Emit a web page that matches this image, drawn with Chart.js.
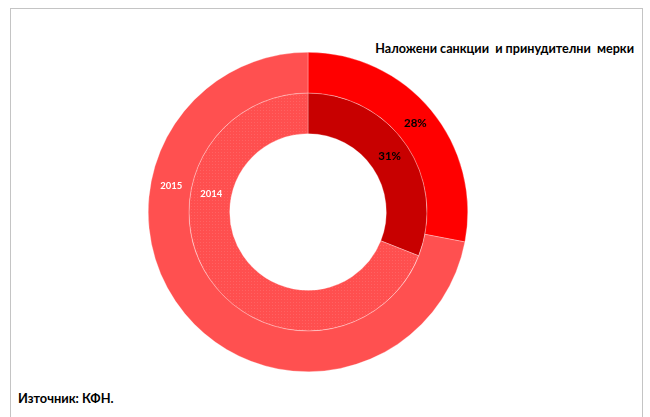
<!DOCTYPE html>
<html lang="bg">
<head>
<meta charset="utf-8">
<script src="https://cdn.jsdelivr.net/npm/chart.js@4.4.0/dist/chart.umd.min.js"></script>
<style>
  body { margin: 0; background: #fff; width: 650px; height: 417px; overflow: hidden; position: relative; font-family: Lato, "Open Sans", sans-serif; }
  .frame { position: absolute; left: 10px; top: 8px; width: 631px; height: 430px; border: 1px solid #c4c4c4; }
  .title { position: absolute; right: 16px; top: 41px; font-weight: bold; font-size: 12.6px; color: #000; white-space: pre; }
  .source { position: absolute; left: 18px; top: 390px; font-weight: bold; font-size: 12.8px; color: #000; }
  .pie { position: absolute; left: 148px; top: 52px; width: 320px; height: 320px; }
</style>
</head>
<body>
<div class="frame"></div>
<div class="title">Наложени санкции  и принудителни  мерки</div>
<div class="pie"><canvas id="graficoSancoes" width="320" height="320"></canvas></div>
<div class="source">Източник: КФН.</div>
<script>
// дялове по години (външен пръстен 2015, вътрешен 2014)
const godini = ['2015', '2014'];
const kategorii = ['Принудителни мерки', 'Наложени санкции'];
const dannu2015 = [28, 72];
const dannu2014 = [31, 69];
const etiketi2015 = ['28%', ''];
const etiketi2014 = ['31%', ''];

// ситна точкова шарка за втория сегмент на 2014
function shablon() {
  const c = document.createElement('canvas');
  c.width = 3; c.height = 3;
  const ctx = c.getContext('2d');
  ctx.fillStyle = '#ff4f4f';
  ctx.fillRect(0, 0, 3, 3);
  ctx.fillStyle = '#ff6262';
  ctx.fillRect(1, 1, 1, 1);
  return ctx.createPattern(c, 'repeat');
}

// ъгъл (от горе, по часовника) за имената на пръстените
const uglyNaIme = 281;

const nadpisi = {
  id: 'nadpisi',
  afterDatasetsDraw(chart) {
    const ctx = chart.ctx;
    ctx.save();
    ctx.textAlign = 'center';
    ctx.textBaseline = 'middle';
    chart.data.datasets.forEach((ds, i) => {
      const meta = chart.getDatasetMeta(i);
      meta.data.forEach((arc, j) => {
        const txt = ds.etiketi[j];
        if (!txt) return;
        const p = arc.getCenterPoint();
        ctx.font = 'bold 11.5px Lato, sans-serif';
        ctx.fillStyle = '#000';
        ctx.fillText(txt, p.x, p.y);
      });
      const a = meta.data[0];
      const r = (a.innerRadius + a.outerRadius) / 2;
      const ug = uglyNaIme * Math.PI / 180 - Math.PI / 2;
      ctx.font = 'bold 9.5px Lato, sans-serif';
      ctx.fillStyle = '#fff';
      ctx.fillText(ds.label, a.x + r * Math.cos(ug), a.y + r * Math.sin(ug) + 1);
    });
    ctx.restore();
  }
};

const grafico = new Chart(document.getElementById('graficoSancoes'), {
  type: 'doughnut',
  data: {
    labels: kategorii,
    datasets: [{
      label: godini[0],
      data: dannu2015,
      etiketi: etiketi2015,
      backgroundColor: ['#ff0000', '#ff5050'],
      borderColor: 'rgba(255,255,255,0.6)',
      borderWidth: 0.5
    }, {
      label: godini[1],
      data: dannu2014,
      etiketi: etiketi2014,
      backgroundColor: ['#c80000', shablon()],
      borderColor: 'rgba(255,255,255,0.6)',
      borderWidth: 0.5
    }]
  },
  options: {
    responsive: false,
    animation: false,
    cutout: '49%',
    layout: { padding: 0 },
    plugins: {
      legend: { display: false },
      tooltip: { enabled: false },
      title: { display: false }
    }
  },
  plugins: [nadpisi]
});
</script>
</body>
</html>
